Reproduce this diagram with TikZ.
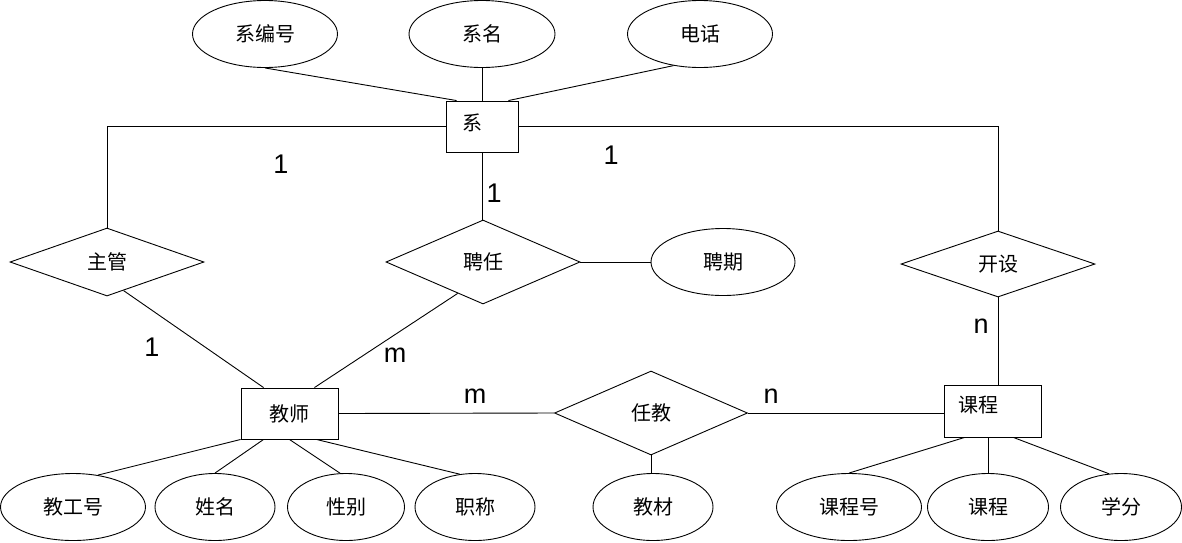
\documentclass[tikz,border=0pt]{standalone}
\usepackage{fontspec}
\newfontfamily\cjk{Noto Sans CJK SC}
\newfontfamily\lat{Liberation Sans}
\usetikzlibrary{calc, positioning, shapes.geometric}
\tikzset{
  entity/.style={draw, rectangle, minimum height=51pt, inner sep=0pt, font=\cjk\fontsize{20}{24}\selectfont},
  attr/.style={draw, ellipse, minimum height=67pt, minimum width=#1, inner sep=0pt, font=\cjk\fontsize{20}{24}\selectfont},
  attr/.default=120pt,
  rel/.style={draw, diamond, minimum width=194pt, inner sep=0pt, font=\cjk\fontsize{20}{24}\selectfont},
  card/.style={font=\lat\fontsize{27}{30}\selectfont, inner sep=0pt}
}

\begin{document}
\begin{tikzpicture}[x=1pt, y=-1pt, line width=0.9pt]
	\useasboundingbox (0,0) rectangle (1182,542);
	% entities
	\node[entity, inner xsep=16pt, text width=40pt, align=left, text depth=9pt] (xi) at (482,126.5) {系};
	\node[entity, minimum width=97pt] (jiaoshi) at (289.5,413.5) {教师};
	\node[entity, inner xsep=14pt, text width=69pt, align=left, minimum height=52pt, text depth=13pt] (kecheng) at (992.5,411) {课程};
	% relations
	\node[rel, minimum height=68pt] (zhuguan) at (107,262) {主管};
	\node[rel, minimum height=84pt] (pinren) at (483,262) {聘任};
	\node[rel, minimum height=66pt] (kaishe) at (998,264) {开设};
	\node[rel, minimum height=84pt, minimum width=193pt] (renjiao) at (651,413) {任教};
	% attributes
	\node[attr=145pt] (xbh) at (265,34) {系编号};
	\node[attr=146pt] (xm) at (482,34) {系名};
	\node[attr=145pt] (dh) at (700,34) {电话};
	\node[attr=144pt] (pq) at (723,262) {聘期};
	\node[attr=145pt] (jgh) at (73,507) {教工号};
	\node[attr] (xingm) at (215,507) {姓名};
	\node[attr=117pt] (xb) at (346,507) {性别};
	\node[attr] (zc) at (475,507) {职称};
	\node[attr] (jc) at (653,507) {教材};
	\node[attr=145pt] (kch) at (849,507) {课程号};
	\node[attr=121pt] (kc2) at (988,507) {课程};
	\node[attr=121pt] (xf) at (1121,507) {学分};
	% connectors
	\draw (xbh.south) -- ([xshift=11pt]xi.north west);
	\draw (xm.south) -- (xi.north);
	\draw (dh.-130) -- ([xshift=-10pt]xi.north east);
	\draw (xi.west) -| (zhuguan.north);
	\draw (xi.east) -| (kaishe.north);
	\draw (xi.south) -- (xi.south |- pinren.north);
	\draw (pinren.east) -- (pq.west);
	\draw ($(zhuguan.south)!0.17!(zhuguan.east)$) -- ([xshift=23pt]jiaoshi.north west);
	\draw ($(pinren.south)!0.26!(pinren.west)$) -- ([xshift=-24pt]jiaoshi.north east);
	\draw (jiaoshi.east) -- (renjiao.west);
	\draw (renjiao.east) -- (renjiao.east -| kecheng.west);
	\draw (kaishe.south) -- (kaishe.south |- kecheng.north);
	\draw (renjiao.south) -- (renjiao.south |- jc.north);
	\draw (jgh.52) -- (jiaoshi.south west);
	\draw (xingm.north) -- ([xshift=23pt]jiaoshi.south west);
	\draw (xb.100) -- (jiaoshi.south);
	\draw (zc.115) -- ([xshift=-22pt]jiaoshi.south east);
	\draw (kch.north) -- ([xshift=21pt]kecheng.south west);
	\draw (kc2.north) -- (kc2.north |- kecheng.south);
	\draw (xf.110) -- ([xshift=-28pt]kecheng.south east);
	% cardinalities
	\node[card] (c1) at (281,164) {1};
	\node[card] (c2) at (611,155) {1};
	\node[card] (c3) at (494,193) {1};
	\node[card] (c4) at (152,347) {1};
	\node[card] (c5) at (395,355) {m};
	\node[card] (c6) at (475,396) {m};
	\node[card] (c7) at (771,396) {n};
	\node[card] (c8) at (981,326) {n};
\end{tikzpicture}
\end{document}
